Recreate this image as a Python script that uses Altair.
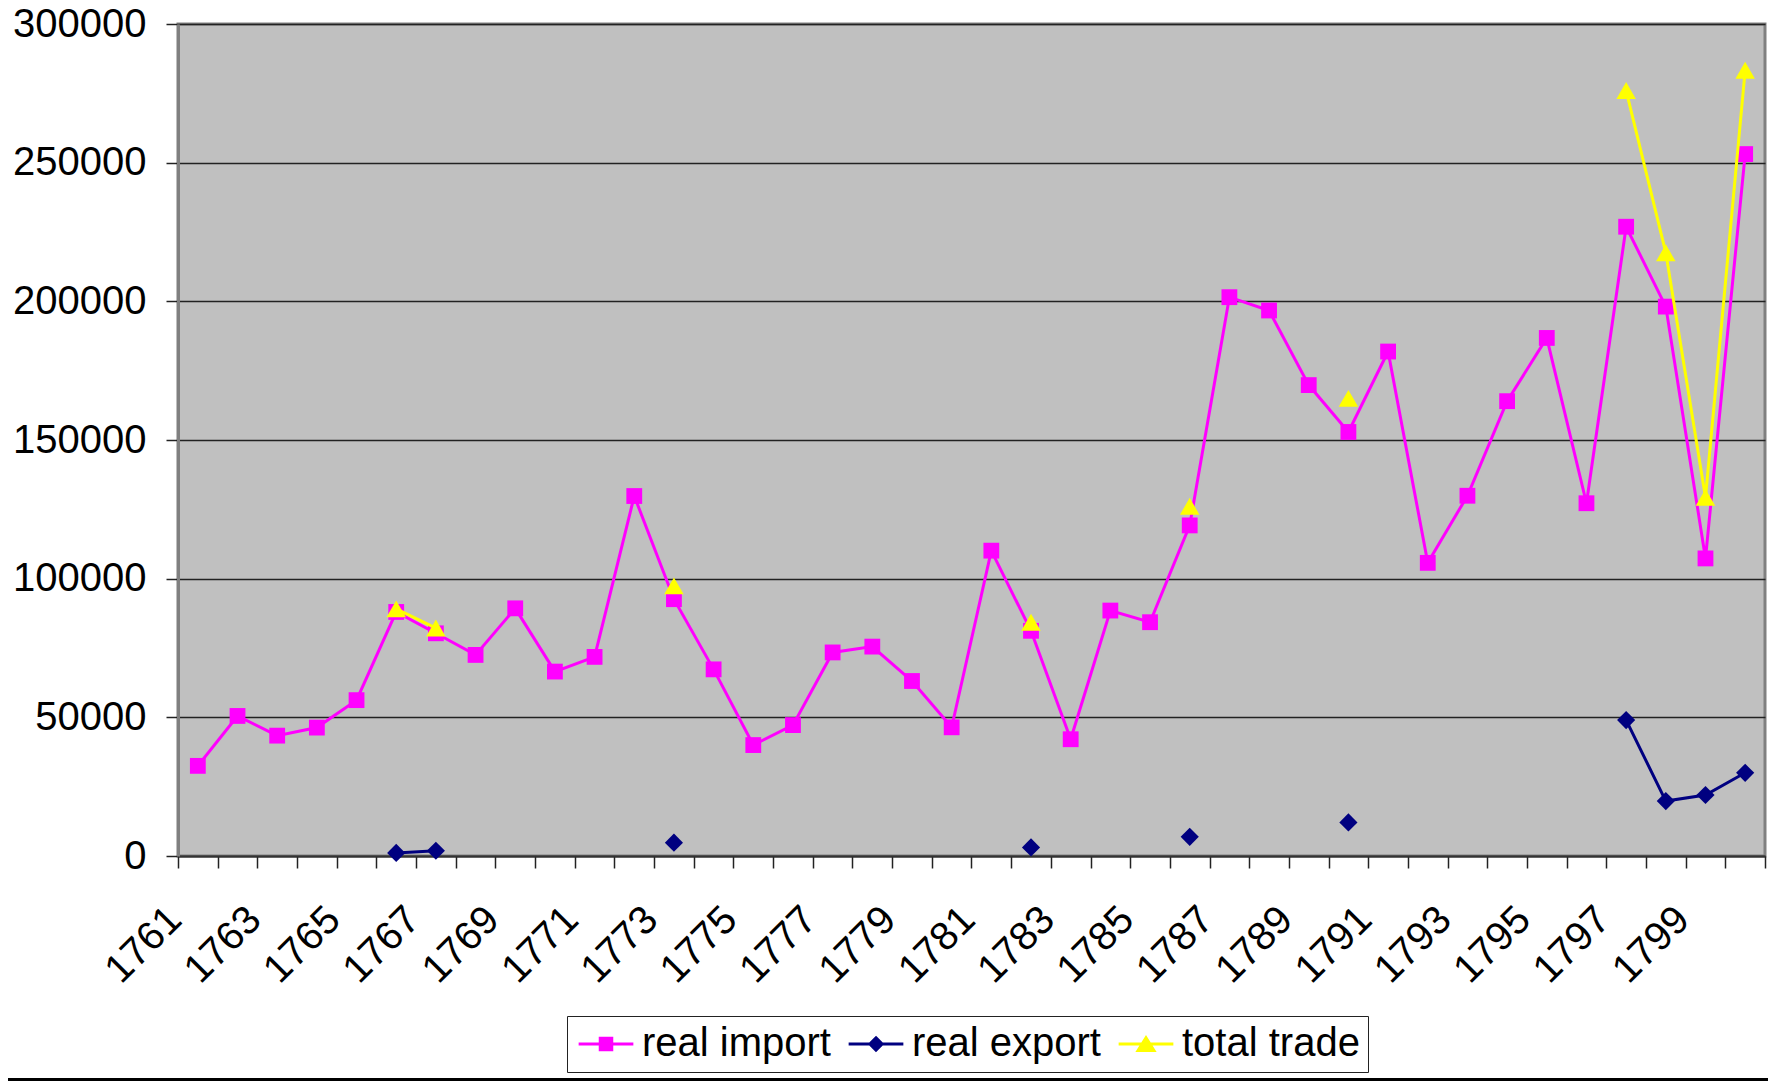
import altair as alt
import pandas as pd

years = list(range(1761, 1801))

real_import = [32500, 50500, 43400, 46300, 56200, 88000, 80300, 72500, 89300, 66500,
               71800, 129800, 92600, 67300, 40000, 47200, 73400, 75500, 63100, 46400,
               110100, 81200, 42100, 88500, 84300, 119200, 201500, 196700, 169800, 152900,
               181900, 105700, 129900, 164000, 186800, 127200, 226900, 198100, 107300, 253100]

real_export = [None, None, None, None, None, 1100, 1900, None, None, None,
               None, None, 4800, None, None, None, None, None, None, None,
               None, 3100, None, None, None, 6900, None, None, None, 12100,
               None, None, None, None, None, None, 49000, 19800, 22000, 30000]

total_trade = [None, None, None, None, None, 89100, 82200, None, None, None,
               None, None, 97400, None, None, None, None, None, None, None,
               None, 84300, None, None, None, 126100, None, None, None, 165000,
               None, None, None, None, None, None, 276000, 217500, 129300, 283300]

series_names = ["real import", "real export", "total trade"]
series_colors = ["#FF00FF", "#000080", "#FFFF00"]
series_shapes = ["square", "diamond", "triangle-up"]
series_sizes = [250, 330, 380]
y_ticks = [0, 50000, 100000, 150000, 200000, 250000, 300000]

rows = []
for name, vals in zip(series_names, [real_import, real_export, total_trade]):
    seg = 0
    for yr, v in zip(years, vals):
        if v is None:
            seg += 1
            continue
        rows.append({"year": yr, "value": v, "series": name, "seg": f"{name}-{seg}"})
df = pd.DataFrame(rows)

FONT = "Liberation Sans"

x_enc = alt.X(
    "year:O",
    scale=alt.Scale(type="band", paddingInner=0, paddingOuter=0, domain=years),
    axis=alt.Axis(
        title=None,
        tickBand="extent",
        tickSize=12,
        tickWidth=1.5,
        tickColor="#222222",
        domainColor="#333333",
        domainWidth=2,
        grid=False,
        labelAngle=-45,
        labelAlign="right",
        labelBaseline="middle",
        labelOffset=-23,
        labelPadding=45,
        labelFontSize=40,
        labelFont=FONT,
        labelColor="#000000",
        labelOverlap=False,
        labelBound=False,
        labelFlush=False,
        labelExpr="(toNumber(datum.value) - 1761) % 2 == 0 ? datum.label : ''",
    ),
)

y_enc = alt.Y(
    "value:Q",
    scale=alt.Scale(domain=[0, 300000], nice=False, zero=True),
    axis=alt.Axis(
        title=None,
        values=y_ticks,
        format="d",
        tickSize=12,
        tickWidth=1.5,
        tickColor="#222222",
        domainColor="#808080",
        domainWidth=3,
        grid=True,
        gridColor="#222222",
        gridWidth=1.3,
        labelPadding=20,
        labelFontSize=40,
        labelFont=FONT,
        labelColor="#000000",
        labelFlush=False,
        labelOverlap=False,
    ),
)

# legend symbols: a short line with the series marker (custom paths, unit r = 18px)
shape_expr = (
    "datum.value === 'real import' ? 'M-1.52,0H1.52M-0.32,-0.32H0.32V0.32H-0.32Z' : "
    "datum.value === 'real export' ? 'M-1.52,0H1.52M0,-0.34L0.34,0L0,0.34L-0.34,0Z' : "
    "'M-1.52,0H1.52M0,-0.34L0.44,0.36L-0.44,0.36Z'"
)

color_enc = alt.Color(
    "series:N",
    scale=alt.Scale(domain=series_names, range=series_colors),
    legend=alt.Legend(
        title=None,
        orient="none",
        legendX=389,
        legendY=992,
        direction="horizontal",
        columns=3,
        columnPadding=11,
        padding=8,
        symbolSize=1296,
        symbolStrokeWidth=3,
        symbolOffset=11,
        symbolOpacity=1,
        symbolType={"expr": shape_expr},
        symbolFillColor={"expr": "scale('color', datum.value)"},
        symbolStrokeColor={"expr": "scale('color', datum.value)"},
        labelFontSize=40,
        labelFont=FONT,
        labelColor="#000000",
        labelOffset=16,
        labelLimit=0,
        fillColor="#FFFFFF",
        strokeColor="#222222",
        cornerRadius=0,
    ),
)

base = alt.Chart(df)
layers = []
for name, shape, size in zip(series_names, series_shapes, series_sizes):
    b = base.transform_filter(alt.datum.series == name)
    layers.append(
        b.mark_line(strokeWidth=3).encode(x=x_enc, y=y_enc, color=color_enc, detail="seg:N")
    )
    layers.append(
        b.mark_point(shape=shape, filled=True, size=size, opacity=1, strokeWidth=0).encode(
            x=x_enc, y=y_enc, color=color_enc
        )
    )

frame = alt.Chart(pd.DataFrame({"k": [0]})).mark_rule(color="#000000", strokeWidth=3).encode(
    x=alt.value(-170), x2=alt.value(1592), y=alt.value(1055.5)
)

chart = (
    alt.layer(*layers, frame)
    .properties(
        width=1587,
        height=832,
        padding={"left": 170, "top": 16, "right": 3, "bottom": 227},
        autosize=alt.AutoSizeParams(type="none"),
        background="#FFFFFF",
    )
    .configure_view(fill="#C0C0C0", stroke="#808080", strokeWidth=3)
)

chart.save("out.html", embed_options={"renderer": "svg", "actions": False})
